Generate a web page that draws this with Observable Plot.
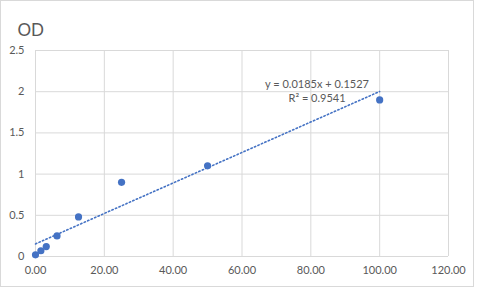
<!DOCTYPE html>
<html>
<head>
<meta charset="utf-8">
<script src="https://cdn.jsdelivr.net/npm/d3@7"></script>
<script src="https://cdn.jsdelivr.net/npm/@observablehq/plot@0.6"></script>
<style>
  body { margin: 0; background: #fff; }
  #wrap { position: relative; width: 482px; height: 288px; }
  #border { position: absolute; left: 0; top: 0; width: 472px; height: 285px; border: 1px solid #d9d9d9; pointer-events: none; }
</style>
</head>
<body>
<div id="wrap"><div id="border"></div></div>
<script>
const concentration = [0, 1.5625, 3.125, 6.25, 12.5, 25, 50, 100];
const od = [0.02, 0.07, 0.12, 0.25, 0.48, 0.90, 1.10, 1.90];
const trendSlope = 0.0185;
const trendIntercept = 0.1527;
const trendRange = [0, 100];
const xTicks = [0, 20, 40, 60, 80, 100, 120];
const yTicks = [0, 0.5, 1, 1.5, 2, 2.5];
const equationLines = ["y = 0.0185x + 0.1527", "R² = 0.9541"];

const points = concentration.map((x, i) => ({x, y: od[i]}));
const trend = trendRange.map(x => ({x, y: trendSlope * x + trendIntercept}));

const blue = "#4472C4";
const grey = "#595959";
const font = "Lato, 'Open Sans', sans-serif";

const chart = Plot.plot({
  width: 482,
  height: 288,
  marginLeft: 35,
  marginRight: 34,
  marginTop: 50,
  marginBottom: 32,
  style: {fontFamily: font, fontSize: "11px", color: grey, background: "transparent"},
  x: {domain: [0, 120], ticks: xTicks, tickFormat: d3.format(".2f"), label: null},
  y: {domain: [0, 2.5], ticks: yTicks, tickFormat: d => String(d), label: null},
  marks: [
    Plot.gridX(xTicks, {stroke: "#d9d9d9", strokeOpacity: 1, strokeWidth: 1}),
    Plot.gridY(yTicks, {stroke: "#d9d9d9", strokeOpacity: 1, strokeWidth: 1}),
    Plot.axisX(xTicks, {tickSize: 0, tickPadding: 10, fill: grey, fontSize: 11, tickFormat: d3.format(".2f")}),
    Plot.axisY(yTicks, {tickSize: 0, tickPadding: 11, fill: grey, fontSize: 11, tickFormat: d => String(d)}),
    Plot.line(trend, {x: "x", y: "y", stroke: blue, strokeWidth: 1.6, strokeDasharray: "1.4 2.4"}),
    Plot.dot(points, {x: "x", y: "y", r: 3.6, fill: blue, stroke: "none"}),
    Plot.text([equationLines[0]], {x: [81.8], y: [2.01], dy: -6, text: d => d, fill: grey, fontSize: 11, textAnchor: "middle"}),
    Plot.text([equationLines[1]], {x: [81.8], y: [2.01], dy: 8, text: d => d, fill: grey, fontSize: 11, textAnchor: "middle"}),
    Plot.text(["OD"], {frameAnchor: "top-left", dx: -18, dy: -27, text: d => d, fill: grey, fontSize: 17, textAnchor: "start"})
  ]
});
document.getElementById("wrap").prepend(chart);
</script>
</body>
</html>
